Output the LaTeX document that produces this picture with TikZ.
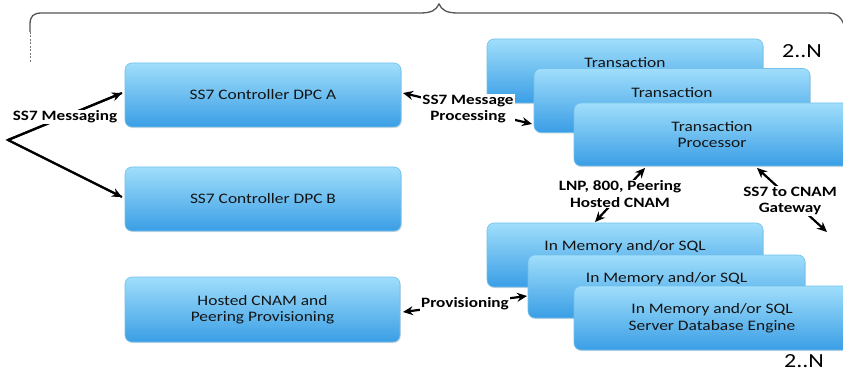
\documentclass[tikz,border=0pt]{standalone}
\usepackage{fontspec}
\setmainfont{Carlito}
\newfontfamily\bx[FakeStretch=1.2]{Carlito}
\usetikzlibrary{arrows.meta,shadows,calc}
\definecolor{boxtop}{HTML}{A0DEFB}
\definecolor{boxbot}{HTML}{3A9EE5}
\definecolor{boxedge}{HTML}{72C0EC}
\definecolor{bracec}{HTML}{555555}
\tikzset{
 box/.style={rectangle, rounded corners=7pt, minimum width=276pt, minimum height=64pt, inner sep=0pt,
   top color=boxtop, bottom color=boxbot, draw=boxedge, line width=0.6pt, align=center,
   font=\bx\fontsize{14.5}{16.5}\selectfont, text=black!92,
   drop shadow={opacity=0.25, shadow xshift=0.8pt, shadow yshift=-1.2pt}},
 lbl/.style={fill=white, inner sep=1pt, align=center, font=\bx\bfseries\fontsize{14.3}{16.5}\selectfont},
 conn/.style={line width=2.2pt, -{Stealth[length=10pt,width=9pt]}},
 dconn/.style={line width=2.2pt, {Stealth[length=10pt,width=9pt]}-{Stealth[length=10pt,width=9pt]}},
 cnt/.style={font=\bx\fontsize{20}{22}\selectfont, inner sep=0pt}
}
\begin{document}
\begin{tikzpicture}[x=1pt,y=-1pt]
\useasboundingbox (0,0) rectangle (843,374);
% brace
\draw[bracec, line width=1.3pt] (30,32) -- (30,25) .. controls (30,16) and (33,13) .. (42,13)
  -- (420,13) .. controls (432,13) and (436,10) .. (439,4) .. controls (442,10) and (446,13) .. (458,13)
  -- (828,13) .. controls (837,13) and (842,17) .. (846,30);
\draw[bracec!80, line width=1pt, dash pattern=on 2pt off 1.5pt] (30,32) -- (30,62);
% left boxes
\node[box] (A) at (263,95) {SS7 Controller DPC A};
\node[box] (B) at (263,199) {SS7 Controller DPC B};
\node[box, minimum width=275pt, minimum height=65pt] (H) at (262.5,309.5) {Hosted CNAM and\\Peering Provisioning};
% transaction stack
\node[box] (T1) at (625,71) {Transaction\\\phantom{Processor}};
\node[box] (T2) at (672,100.5) {Transaction\\\phantom{Processor}};
\node[box, minimum height=63pt] (T3) at (712,134.5) {Transaction\\Processor};
% database stack
\node[box] (D1) at (625,255) {In Memory and/or SQL\\\phantom{Server Database Engine}};
\node[box, minimum width=277pt, minimum height=63pt] (D2) at (666.5,286.5) {In Memory and/or SQL\\\phantom{Server Database Engine}};
\node[box] (D3) at (712,318) {In Memory and/or SQL\\Server Database Engine};
\node[cnt] (n1) at (802,51) {2..N};
\node[cnt] (n2) at (804,361) {2..N};
% SS7 messaging
\coordinate (v) at (8,140);
\coordinate (ainA) at (122,93);
\coordinate (ainB) at (122,197);
\draw[line width=2.2pt, line join=miter] (ainA) -- (v) -- (ainB);
\draw[conn] (v) -- (ainA);
\draw[conn] (v) -- (ainB);
\node[lbl] (l1) at (65,117) {SS7 Messaging};
% SS7 message processing
\coordinate (pA) at (403,93);
\coordinate (pT) at (532,124);
\draw[dconn] (pA) -- (pT);
\node[lbl] (l2) at (468,109) {SS7 Message\\Processing};
% LNP
\coordinate (lnpT) at (645,168);
\coordinate (lnpD) at (595,222);
\draw[dconn] (lnpT) -- (lnpD);
\node[lbl] (l3) at (620,194) {LNP, 800, Peering\\Hosted CNAM};
% gateway
\coordinate (gwT) at (757,168);
\coordinate (gwE) at (827,232);
\draw[dconn] (gwT) -- (gwE);
\node[lbl] (l4) at (790,201) {SS7 to CNAM\\Gateway};
% provisioning
\coordinate (prH) at (403,312);
\coordinate (prD) at (527,296);
\draw[dconn] (prH) -- (prD);
\node[lbl] (l5) at (465,304) {Provisioning};
\end{tikzpicture}
\end{document}
